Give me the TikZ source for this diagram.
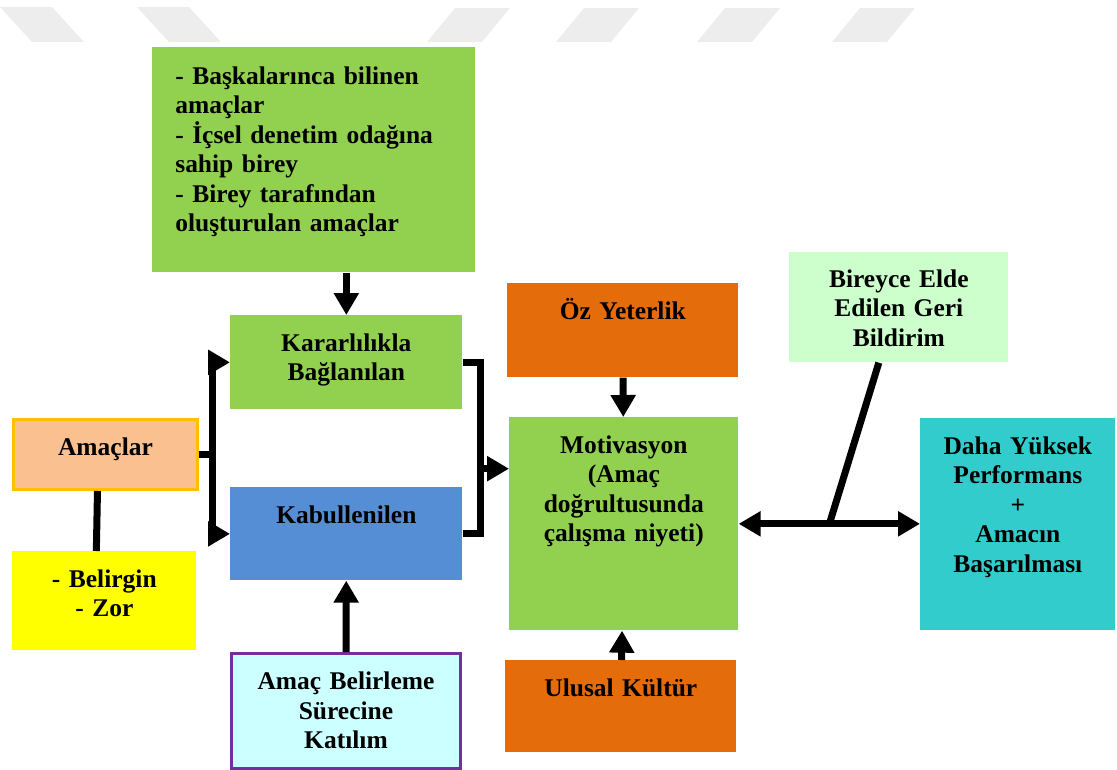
\documentclass[tikz,border=0pt]{standalone}
\usepackage{fontspec}
\setmainfont{Liberation Serif}
\usetikzlibrary{arrows.meta,calc}

\definecolor{boxgreen}{HTML}{92D050}
\definecolor{amacfill}{HTML}{FAC090}
\definecolor{amacline}{HTML}{FFC000}
\definecolor{boxblue}{HTML}{558ED5}
\definecolor{boxyellow}{HTML}{FFFF00}
\definecolor{boxcyan}{HTML}{CCFFFF}
\definecolor{boxpurple}{HTML}{7030A0}
\definecolor{boxorange}{HTML}{E46C0A}
\definecolor{boxmint}{HTML}{CCFFCC}
\definecolor{boxteal}{HTML}{33CCCC}
\definecolor{wmgray}{HTML}{EDEDED}

\begin{document}
\begin{tikzpicture}[x=0.02cm,y=-0.02cm,
 box node/.style={inner xsep=0.1cm,inner ysep=0pt,anchor=north west,align=center,
   text height=0.72cm,font=\bfseries\fontsize{14.5}{16.8}\selectfont},
 arr/.style={line width=0.14cm,-{Triangle[length=0.44cm,width=0.48cm]}},
 twoarr/.style={line width=0.14cm,{Triangle[length=0.44cm,width=0.48cm]}-{Triangle[length=0.44cm,width=0.48cm]}},
 link/.style={line width=0.14cm}]

  \useasboundingbox (0,0) rectangle (1117,769);

  % watermark stripes
  \foreach \t in {0,137}
    \fill[wmgray] (\t,7) -- ++(52,0) -- ++(32,35) -- ++(-52,0) -- cycle;
  \foreach \t in {455,584,725,860}
    \fill[wmgray] (\t,8) -- ++(55,0) -- ++(-28,34) -- ++(-55,0) -- cycle;

  \node[box node,fill=boxgreen,inner xsep=0.46cm,text width=5.54cm,align=left,
        text height=0.74cm,text depth=3.76cm] (1) at (152,47)
        {- Başkalarınca bilinen\\amaçlar\\- İçsel denetim odağına\\sahip birey\\- Birey tarafından\\oluşturulan amaçlar};
  \node[box node,fill=boxgreen,text width=4.44cm,text depth=1.16cm] (2) at (230,315) {Kararlılıkla\\Bağlanılan};
  \node[box node,fill=amacfill,draw=amacline,line width=0.06cm,text width=3.48cm,text depth=0.68cm] (3) at (12,418) {Amaçlar};
  \node[box node,fill=boxblue,text width=4.44cm,text depth=1.14cm] (4) at (230,487) {Kabullenilen};
  \node[box node,fill=boxyellow,text width=3.48cm,text depth=1.26cm] (5) at (12,551) {- Belirgin\\- Zor};
  \node[box node,fill=boxcyan,draw=boxpurple,line width=0.06cm,text width=4.38cm,text depth=1.58cm] (6) at (230,652) {Amaç Belirleme\\Sürecine\\Katılım};
  \node[box node,fill=boxorange,text width=4.42cm,text depth=1.16cm] (7) at (507,283) {Öz Yeterlik};
  \node[box node,fill=boxgreen,text width=4.38cm,text depth=3.54cm] (8) at (509,417) {Motivasyon\\(Amaç\\doğrultusunda\\çalışma niyeti)};
  \node[box node,fill=boxorange,text width=4.42cm,text depth=1.12cm] (9) at (505,660) {Ulusal Kültür};
  \node[box node,fill=boxmint,text width=4.18cm,text height=0.70cm,text depth=1.50cm] (10) at (789,252) {Bireyce Elde\\Edilen Geri\\Bildirim};
  \node[box node,fill=boxteal,text width=3.70cm,text depth=3.52cm] (11) at (920,418) {Daha Yüksek\\Performans\\+\\Amacın\\Başarılması};

  \draw[arr] (1.south -| 2.north) -- (2.north);
  \draw[arr] (3.east) -- ++(14,0) |- (2.west);
  \draw[arr] (3.east) -- ++(14,0) |- (4.west);
  \draw[link] ([xshift=-0.16cm]3.south) -- ([xshift=-0.16cm]5.north);

  \draw[link] (2.east) -- ++(18,0) coordinate (k1) |- (4.east);
  \coordinate (k2) at ($(k1)!0.62!(k1 |- 4.east)$);
  \draw[arr] (k2) -- (k2 -| 8.west);

  \path (7) edge[arr] (8)
        (9) edge[arr] (8)
        (6) edge[arr] (4);

  \draw[twoarr] (8.east) -- (8.east -| 11.west);
  \coordinate (j) at ($(8.east)!0.5!(11.west)$);
  \draw[link] ([xshift=-0.4cm]10.south) -- (j);
\end{tikzpicture}
\end{document}
